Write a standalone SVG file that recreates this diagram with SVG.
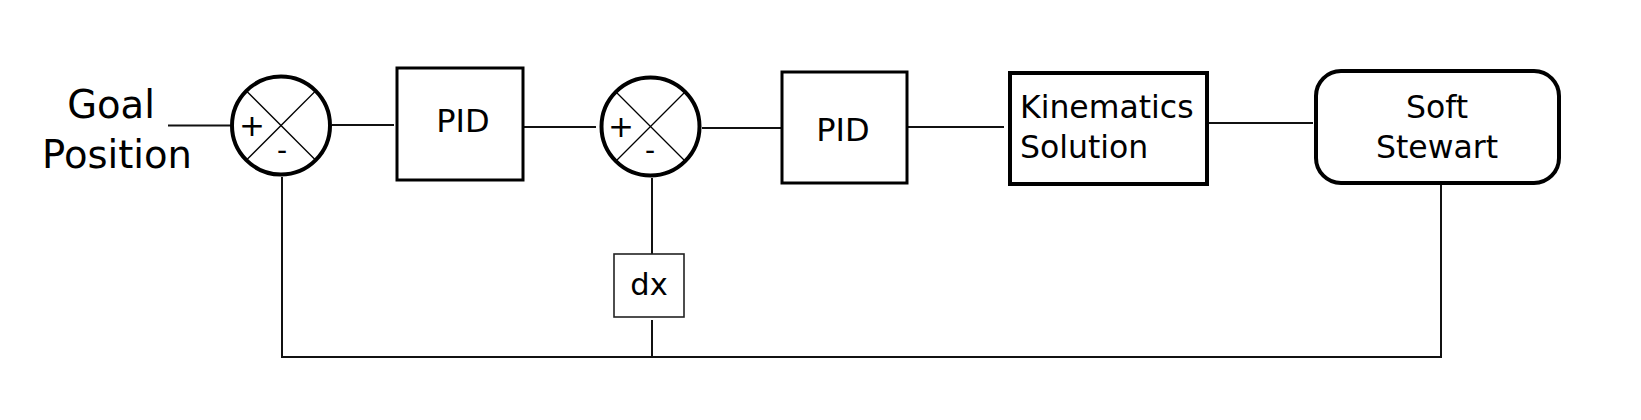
<svg xmlns="http://www.w3.org/2000/svg" width="1641" height="420" viewBox="0 0 1641 420">
<style>
  text { font-family: "DejaVu Sans", Verdana, sans-serif; fill: #000; }
  .conn { stroke: #111; stroke-width: 2; fill: none; }
  .sum { fill: #fff; stroke: #000; stroke-width: 4; }
  .x { stroke: #000; stroke-width: 1.3; }
  .box { fill: #fff; stroke: #000; stroke-width: 3; }
  .boxb { fill: #fff; stroke: #000; stroke-width: 4; }
  .thin { fill: #fff; stroke: #222; stroke-width: 1.6; }
</style>
<rect width="1641" height="420" fill="#fff"/>
<g id="connectors">
  <line class="conn" x1="168" y1="125.5" x2="230" y2="125.5"/>
  <line class="conn" x1="332" y1="125" x2="394" y2="125"/>
  <line class="conn" x1="523" y1="127" x2="596" y2="127"/>
  <line class="conn" x1="702" y1="128" x2="781" y2="128"/>
  <line class="conn" x1="907" y1="127" x2="1004" y2="127"/>
  <line class="conn" x1="1207" y1="123" x2="1313" y2="123"/>
  <polyline class="conn" points="1441,183 1441,357 282,357 282,177"/>
  <line class="conn" x1="652" y1="178" x2="652" y2="254"/>
  <line class="conn" x1="652" y1="320" x2="652" y2="357"/>
</g>
<g id="label-goal">
  <text x="111" y="118" font-size="38.5" text-anchor="middle">Goal</text>
  <text x="117" y="168" font-size="38.5" text-anchor="middle">Position</text>
</g>
<g id="sum1">
  <circle class="sum" cx="281" cy="125.5" r="49"/>
  <line class="x" x1="246" y1="90.5" x2="316" y2="160.5"/>
  <line class="x" x1="316" y1="90.5" x2="246" y2="160.5"/>
  <text x="252" y="136" font-size="31" text-anchor="middle">+</text>
  <text x="282" y="160" font-size="28" text-anchor="middle">-</text>
</g>
<g id="pid1">
  <rect class="box" x="397" y="68" width="126" height="112"/>
  <text x="463" y="132" font-size="32" text-anchor="middle">PID</text>
</g>
<g id="sum2">
  <circle class="sum" cx="650.5" cy="126.5" r="49"/>
  <line class="x" x1="615.5" y1="91.5" x2="685.5" y2="161.5"/>
  <line class="x" x1="685.5" y1="91.5" x2="615.5" y2="161.5"/>
  <text x="621" y="137" font-size="31" text-anchor="middle">+</text>
  <text x="650" y="160" font-size="28" text-anchor="middle">-</text>
</g>
<g id="pid2">
  <rect class="box" x="782" y="72" width="125" height="111"/>
  <text x="843" y="141" font-size="32" text-anchor="middle">PID</text>
</g>
<g id="kinematics">
  <rect class="boxb" x="1010" y="73" width="197" height="111"/>
  <text x="1020" y="118" font-size="31.5">Kinematics</text>
  <text x="1020" y="158" font-size="31.5">Solution</text>
</g>
<g id="soft-stewart">
  <rect class="boxb" x="1316" y="71" width="243" height="112" rx="25" ry="25"/>
  <text x="1437" y="118" font-size="31.5" text-anchor="middle">Soft</text>
  <text x="1437" y="158" font-size="31.5" text-anchor="middle">Stewart</text>
</g>
<g id="dx">
  <rect class="thin" x="614" y="254" width="70" height="63"/>
  <text x="649" y="295" font-size="30.5" text-anchor="middle">dx</text>
</g>
</svg>
